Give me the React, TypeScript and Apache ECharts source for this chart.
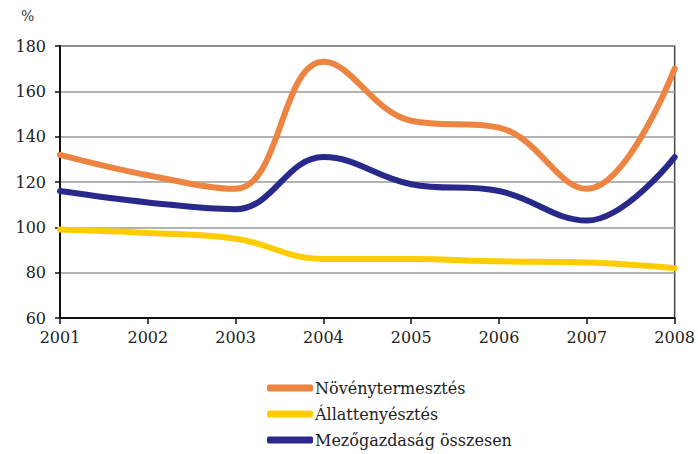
import React, { useEffect, useRef } from "react";
import * as echarts from "echarts";

const years = ["2001", "2002", "2003", "2004", "2005", "2006", "2007", "2008"];
const novenytermesztes = [132, 123, 117, 173, 147, 144, 117, 170];
const allattenyesztes = [99, 97.5, 95, 86, 86, 85, 84.5, 82];
const osszesen = [116, 111, 108, 131, 119, 116, 103, 131];
const seriesNames = ["Növénytermesztés", "Állattenyésztés", "Mezőgazdaság összesen"];

const FONT = "DejaVu Serif";

export default function App() {
  const ref = useRef<HTMLDivElement>(null);
  useEffect(() => {
    if (!ref.current) return;
    const chart = echarts.init(ref.current, null, { renderer: "svg" });
    const mk = (name: string, data: number[], color: string) => ({
      name,
      type: "line",
      data,
      smooth: 0.4,
      showSymbol: false,
      symbol: "none",
      lineStyle: { color, width: 6, cap: "round" },
      itemStyle: { color },
    });
    const legendTops = [380, 406, 432];
    chart.setOption({
      animation: false,
      backgroundColor: "#ffffff",
      textStyle: { fontFamily: FONT },
      grid: {
        left: 60,
        right: 21,
        top: 46,
        bottom: 136,
        show: true,
        borderColor: "#444",
        borderWidth: 1.5,
        containLabel: false,
      },
      graphic: [
        {
          type: "text",
          left: 21,
          top: 9,
          style: { text: "%", fontFamily: FONT, fontSize: 14, fill: "#333" },
        },
      ],
      legend: seriesNames.map((n, i) => ({
        orient: "vertical",
        left: 267,
        top: legendTops[i],
        padding: [0, 5, 0, 0],
        itemWidth: 46,
        itemHeight: 7,
        icon: "roundRect",
        data: [n],
        textStyle: { fontFamily: FONT, fontSize: 16, color: "#222", padding: [0, 0, 0, -3] },
      })),
      xAxis: {
        type: "category",
        data: years,
        boundaryGap: false,
        axisLine: { lineStyle: { color: "#111", width: 2 } },
        axisTick: { show: true, length: 6, lineStyle: { color: "#111", width: 1.5 } },
        axisLabel: { fontFamily: FONT, fontSize: 16, color: "#222", margin: 11 },
        splitLine: { show: false },
      },
      yAxis: {
        type: "value",
        min: 60,
        max: 180,
        interval: 20,
        axisLine: { show: true, lineStyle: { color: "#111", width: 2 } },
        axisTick: { show: true, length: 5, lineStyle: { color: "#111", width: 1.5 } },
        axisLabel: { fontFamily: FONT, fontSize: 16, color: "#222", margin: 14 },
        splitLine: { show: true, lineStyle: { color: "#9a9a9a", width: 1.5 } },
      },
      series: [
        mk(seriesNames[0], novenytermesztes, "#EE8441"),
        mk(seriesNames[1], allattenyesztes, "#FFCC00"),
        mk(seriesNames[2], osszesen, "#29298C"),
      ],
    });
    return () => chart.dispose();
  }, []);
  return (
    <div
      ref={ref}
      style={{ position: "absolute", left: 0, top: 0, width: 698, height: 454 }}
    />
  );
}
